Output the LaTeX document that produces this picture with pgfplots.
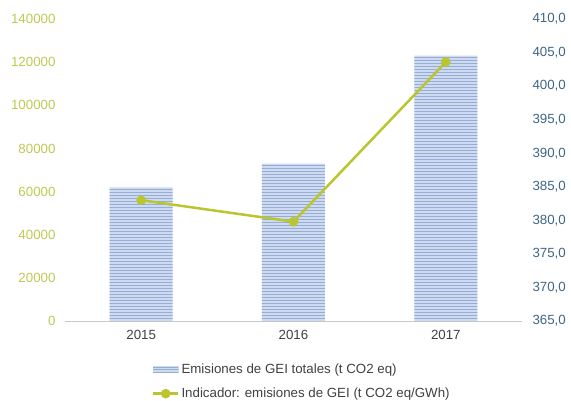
\documentclass[border=0pt]{standalone}
\usepackage{pgfplots}
\pgfplotsset{compat=1.18}
\usetikzlibrary{patterns}
\usepackage{fontspec}
\setmainfont{Liberation Sans}
\definecolor{barfill}{RGB}{205,218,239}
\definecolor{barline}{RGB}{150,174,214}
\definecolor{lineg}{RGB}{187,197,45}
\definecolor{lefttick}{RGB}{188,202,80}
\definecolor{righttick}{RGB}{62,101,132}
\definecolor{axisgray}{RGB}{200,200,200}
\definecolor{txtgray}{RGB}{64,64,64}

\begin{document}
\begin{tikzpicture}
\pgfplotsset{
  base/.style={
    width=457pt, height=302pt, scale only axis,
    xmin=-0.5, xmax=2.5,
    tick label style={font=\fontsize{13.3}{15}\selectfont},
    /pgf/number format/assume math mode=true,
    major tick length=0pt,
  }
}
% bars: total emissions (left axis)
\begin{axis}[base,
    axis y line*=left, axis x line*=bottom,
    ymin=0, ymax=140000,
    ytick={0,20000,40000,60000,80000,100000,120000,140000},
    yticklabel style={color=lefttick, xshift=-6pt,
      /pgf/number format/.cd, fixed, precision=0, 1000 sep={}},
    scaled y ticks=false,
    y axis line style={draw=none},
    x axis line style={axisgray, -},
    xtick={0,1,2}, xticklabels={2015,2016,2017},
    xticklabel style={color=txtgray, yshift=-6pt},
  ]
\addplot[ybar, bar width=63pt, draw=none, fill=barfill,
  postaction={pattern=horizontal lines, pattern color=barline}]
  coordinates {(0,62000) (1,73000) (2,123000)};
\end{axis}
% line: indicator (right axis)
\begin{axis}[base,
    axis y line*=right, axis x line=none,
    ymin=365, ymax=410,
    ytick={365,370,375,380,385,390,395,400,405,410},
    yticklabel style={color=righttick, xshift=7pt,
      /pgf/number format/.cd, fixed, fixed zerofill, precision=1, use comma},
    y axis line style={draw=none},
    legend style={draw=none, fill=none, at={(0.19,-0.135)}, anchor=north west,
      font=\fontsize{13.3}{15}\selectfont, text=txtgray, row sep=9pt, inner sep=0pt},
    legend cell align=left,
  ]
\addlegendimage{legend image code/.code={
    \fill[barfill] (0pt,-3pt) rectangle (25pt,3pt);
    \draw[barline, line width=0.8pt] (0pt,-2.5pt) -- (25pt,-2.5pt) (0pt,0pt) -- (25pt,0pt) (0pt,2.5pt) -- (25pt,2.5pt);
  }}
\addlegendentry{Emisiones de GEI totales (t CO2 eq)}
\addplot[lineg, line width=2.5pt, mark=*, mark size=3.5pt,
  legend image code/.code={
    \draw[lineg, line width=2.5pt] (0pt,0pt) -- (25pt,0pt);
    \fill[lineg] (12.5pt,0pt) circle (3.5pt);
  }]
  coordinates {(0,383.0) (1,379.8) (2,403.6)};
\addlegendentry{Indicador: emisiones de GEI (t CO2 eq/GWh)}
\end{axis}
\pgfresetboundingbox
\path (-65pt,-79pt) rectangle (506pt,321pt);
\end{tikzpicture}
\end{document}
